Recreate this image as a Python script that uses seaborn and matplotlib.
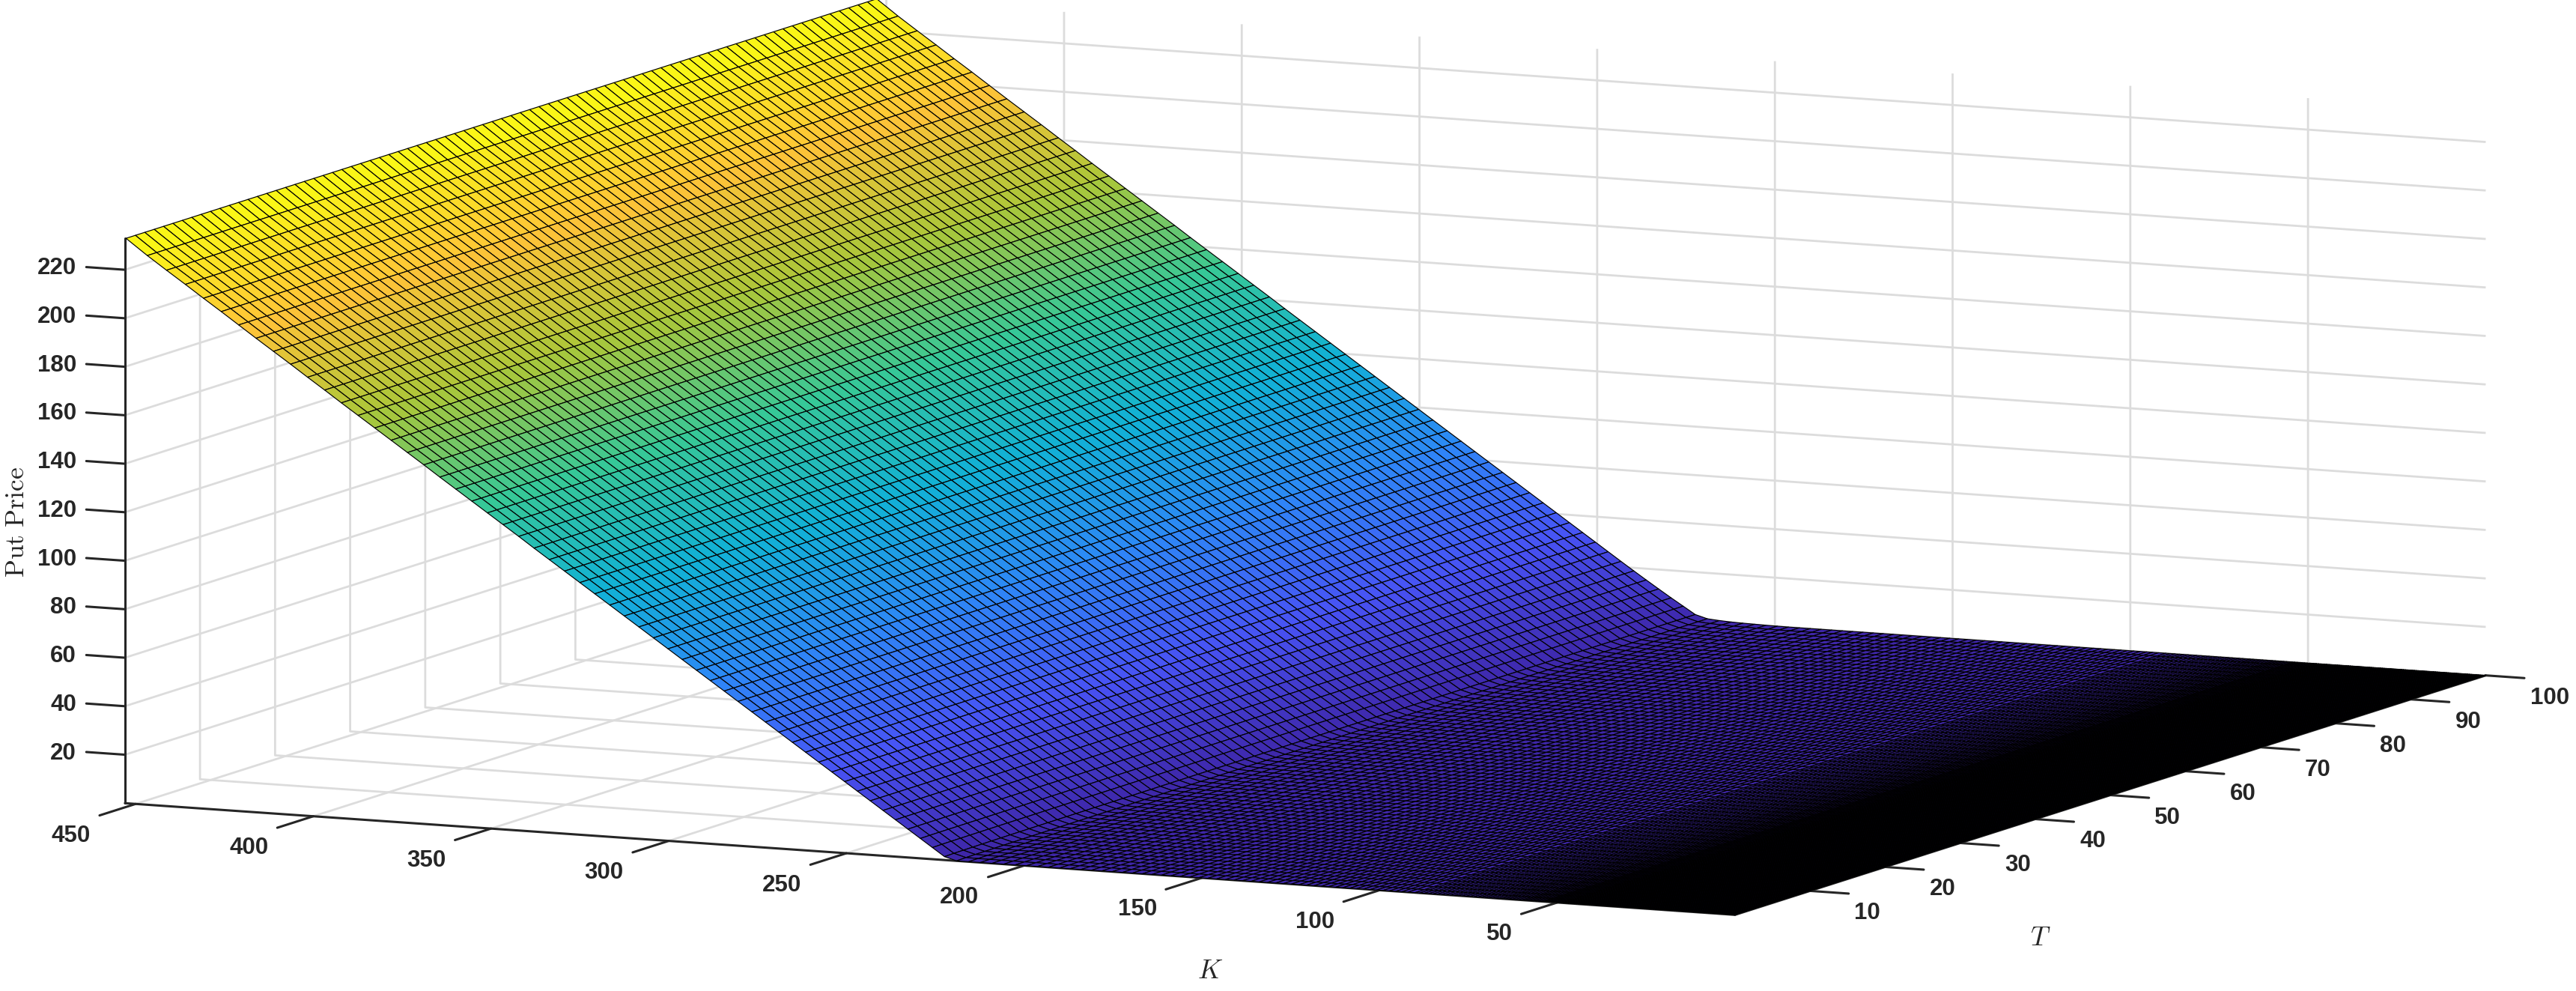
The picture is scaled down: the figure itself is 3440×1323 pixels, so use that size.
import matplotlib
matplotlib.use("Agg")
import matplotlib.pyplot as plt
import numpy as np
import seaborn as sns
from mpl_toolkits.mplot3d import proj3d

# mesh of the surface, the strike spacing shrinks towards K = 0
strikes = [
    0, 0.5, 1, 1.5, 2, 2.5, 3, 3.5, 4, 4.5, 5, 5.5, 6, 6.5, 7, 7.5, 8, 8.5, 9, 9.5,
    10, 10.5, 11, 11.5, 12, 12.5, 13, 13.5, 14, 14.5, 15, 15.5, 16, 16.5, 17, 17.5, 18, 18.5, 19, 19.5,
    20, 20.5, 21, 21.5, 22, 22.5, 23, 23.5, 24, 24.5, 25, 25.5, 26, 26.5, 27, 27.5, 28, 28.5, 29, 29.5,
    30, 30.5, 31, 31.5, 32, 32.5, 33, 33.5, 34, 34.5, 35, 35.5, 36, 36.5, 37, 37.5, 38, 38.5, 39, 39.5,
    40, 40.5, 41, 41.5, 42, 42.5, 43, 43.5, 44, 44.6, 45.2, 45.8, 46.4, 47, 47.6, 48.2, 48.8, 49.5, 50.2,
    50.9, 51.6, 52.3, 53, 53.7, 54.4, 55.2, 56, 56.8, 57.6, 58.4, 59.2, 60, 60.9, 61.8, 62.7, 63.6, 64.5,
    65.4, 66.3, 67.3, 68.3, 69.3, 70.3, 71.3, 72.3, 73.4, 74.5, 75.6, 76.7, 77.8, 78.9, 80.1, 81.3, 82.5,
    83.7, 84.9, 86.1, 87.4, 88.7, 90,
    92, 93.7, 95.4, 97.2, 99, 100.8, 102.6, 104.5, 106.4, 108.3, 110.3, 112.3, 114.3, 116.3, 118.4, 120.5,
    122.6, 124.8, 127, 129.2, 131.5, 133.8, 136.1, 138.5, 140.9, 143.3, 145.8, 148.3, 150.8, 153.4, 156,
    158.6, 161.3, 164, 166.7, 169.5, 172.3, 175.2, 178.1, 181, 184, 187, 190, 193.1, 196.2, 199.3,
    202.5, 205.7, 209, 212.3, 215.6, 219,
    222.4, 225.8, 229.2, 232.7, 236.2, 239.7, 243.3, 246.9, 250.5, 254.1, 257.8, 261.5, 265.2, 269, 272.8,
    276.6, 280.5, 284.4, 288.3, 292.2, 296.2, 300.2, 304.3, 308.4, 312.5, 316.6, 320.8, 325, 329.3, 333.6,
    337.9, 342.2, 346.6, 351, 355.4, 359.9, 364.4, 368.9, 373.5, 378.1, 382.7, 387.4, 392.1, 396.8, 401.6,
    406.4, 411.2, 416.1, 421, 425.9, 430.9, 436, 441.3, 446.7, 452.7,
]

maturities = [
    0, 1.25, 2.5, 3.75, 5, 6.25, 7.5, 8.75, 10, 11.25, 12.5, 13.75, 15, 16.25, 17.5, 18.75,
    20, 21.25, 22.5, 23.75, 25, 26.25, 27.5, 28.75, 30, 31.25, 32.5, 33.75, 35, 36.25, 37.5, 38.75,
    40, 41.25, 42.5, 43.75, 45, 46.25, 47.5, 48.75, 50, 51.25, 52.5, 53.75, 55, 56.25, 57.5, 58.75,
    60, 61.25, 62.5, 63.75, 65, 66.25, 67.5, 68.75, 70, 71.25, 72.5, 73.75, 75, 76.25, 77.5, 78.75,
    80, 81.25, 82.5, 83.75, 85, 86.25, 87.5, 88.75, 90, 91.25, 92.5, 93.75, 95, 96.25, 97.5, 98.75, 100,
]

# put price for the strikes above the kink, below it the price reads as zero
put_price_itm = [
    1.4, 4.8, 8.2, 11.7, 15.2, 18.7, 22.3, 25.9, 29.5, 33.1, 36.8, 40.5, 44.2, 48, 51.8,
    55.6, 59.5, 63.4, 67.3, 71.2, 75.2, 79.2, 83.3, 87.4, 91.5, 95.6, 99.8, 104, 108.3, 112.6,
    116.9, 121.3, 125.7, 130.1, 134.5, 139, 143.5, 148.1, 152.7, 157.3, 161.9, 166.6, 171.3, 176.1, 180.9,
    185.8, 190.6, 195.5, 200.5, 205.5, 210.5, 215.7, 221, 226.5, 233,
]

# rounding of the kink at T = 100, and how far it has grown at each maturity
rounding_strikes = [199.3, 202.5, 205.7, 209, 212.3, 215.6, 219, 222.4, 225.8, 229.2, 232.7, 236.2, 239.7]
rounding_price = [0.05, 0.1, 0.2, 0.3, 0.45, 0.7, 1.1, 1.1, 0.8, 0.5, 0.3, 0.15, 0.05]
rounding_by_maturity = [
    0, .11, .16, .19, .22, .25, .27, .30, .32, .34, .35, .37, .39, .40, .42, .43,
    .45, .46, .47, .49, .50, .51, .52, .54, .55, .56, .57, .58, .59, .60, .61, .62,
    .63, .64, .65, .66, .67, .68, .69, .70, .71, .72, .72, .73, .74, .75, .76, .77,
    .77, .78, .79, .80, .81, .81, .82, .83, .84, .84, .85, .86, .87, .87, .88, .89,
    .89, .90, .91, .92, .92, .93, .94, .94, .95, .96, .96, .97, .97, .98, .99, .99, 1,
]

k_ticks = [50, 100, 150, 200, 250, 300, 350, 400, 450]
t_ticks = [10, 20, 30, 40, 50, 60, 70, 80, 90, 100]
price_ticks = [20, 40, 60, 80, 100, 120, 140, 160, 180, 200, 220]

parula_colors = [
    (0.2422, 0.1504, 0.6603), (0.2810, 0.3228, 0.9579), (0.1786, 0.5289, 0.9682),
    (0.0689, 0.6948, 0.8394), (0.2161, 0.7843, 0.5923), (0.6720, 0.7793, 0.2227),
    (0.9970, 0.7659, 0.2199), (0.9769, 0.9839, 0.0805),
]

K_MAX = 453
PRICE_MAX = 233
INK = "#262626"


def build_surface():
    """Returns the strike grid, the maturity grid and the price table."""
    k = np.array(strikes)
    t = np.array(maturities)
    price = np.zeros(len(k))
    price[len(k) - len(put_price_itm):] = put_price_itm
    rounding = np.zeros(len(k))
    rounding[np.searchsorted(k, rounding_strikes)] = rounding_price
    z = price + np.outer(rounding_by_maturity, rounding)
    k_grid, t_grid = np.meshgrid(k, t)
    return k_grid, t_grid, z


def style_axis(axis, tick_factor):
    axis.set_pane_color((1, 1, 1, 0))
    axis.pane.set_edgecolor((1, 1, 1, 0))
    axis.line.set_color(INK)
    axis.line.set_linewidth(2.2)
    axis._axinfo["tick"].update({
        "inward_factor": 0,
        "outward_factor": tick_factor,
        "linewidth": {True: 2.2, False: 2.2},
        "color": INK,
    })
    axis._axinfo["grid"].update({"color": "#dcdcdc", "linewidth": 2.0, "linestyle": "-"})
    # labels are placed by hand in main, matplotlib can only push them out along the box
    axis.set_ticklabels([])
    axis.set_tick_params(label1On=False, label2On=False)


def move_price_axis_to_left_corner(ax):
    """matplotlib puts the z axis at the far right here, the chart has it on the left."""
    edge_points = ax.zaxis._get_axis_line_edge_points

    def left_corner(minmax, maxmin, position=None):
        start, end = edge_points(minmax, maxmin, position)
        start, end = start.copy(), end.copy()
        start[:2] = (K_MAX, 0)
        end[:2] = (K_MAX, 0)
        return start, end

    ax.zaxis._get_axis_line_edge_points = left_corner


def tick_label(ax, k, t, price, text, ha):
    """Writes a tick label at a point given in the axes' own K, T, price units."""
    x, y, _ = proj3d.proj_transform(k, t, price, ax.get_proj())
    ax.text2D(x, y, text, transform=ax.transData, ha=ha, va="center",
              fontsize=22.5, fontweight="bold", color=INK, zorder=5)


def main():
    sns.set_theme(style="white")
    plt.rcParams["font.family"] = ["Liberation Sans", "DejaVu Sans"]
    plt.rcParams["mathtext.fontset"] = "cm"

    parula = sns.blend_palette(parula_colors, n_colors=256, as_cmap=True)
    k_grid, t_grid, z = build_surface()

    fig = plt.figure(figsize=(34.4, 13.23), dpi=100)
    ax = fig.add_axes([28 / 3440, -1002 / 1323, 3340 / 3440, 3340 / 1323],
                      projection="3d", computed_zorder=False)
    ax.set_proj_type("ortho")
    ax.set_box_aspect((1, 1, 0.3215))
    ax.view_init(elev=8.55, azim=-65)

    ax.set_xlim(K_MAX, 0, view_margin=0)
    ax.set_ylim(0, 100, view_margin=0)
    ax.set_zlim(0, PRICE_MAX, view_margin=0)

    ax.plot_surface(k_grid, t_grid, z, cmap=parula, vmin=0, vmax=PRICE_MAX,
                    rstride=1, cstride=1, edgecolor="black", linewidth=0.85,
                    shade=False, antialiased=True, zorder=3)

    ax.set_xticks(k_ticks)
    ax.set_yticks(t_ticks)
    ax.set_zticks(price_ticks)

    style_axis(ax.xaxis, -0.6)
    style_axis(ax.yaxis, -0.3)
    style_axis(ax.zaxis, 0.3)
    move_price_axis_to_left_corner(ax)
    ax.grid(True)

    for k in k_ticks:
        tick_label(ax, k, -6, -7.2, str(k), "right")
    for t in t_ticks:
        tick_label(ax, -12.5, t, -8, str(t), "left")
    for price in price_ticks:
        tick_label(ax, K_MAX + 13.7, 0, price - 0.8, str(price), "right")

    fig.text(1616 / 3440, 1 - 1297 / 1323, r"$K$", fontsize=26, color=INK,
             ha="center", va="center")
    fig.text(2725 / 3440, 1 - 1253 / 1323, r"$T$", fontsize=26, color=INK,
             ha="center", va="center")
    fig.text(22 / 3440, 1 - 697 / 1323, r"$\mathrm{Put\ Price}$", fontsize=25.5, color=INK,
             rotation=90, ha="center", va="center")

    fig.savefig("out.png", dpi=100)


if __name__ == "__main__":
    main()
